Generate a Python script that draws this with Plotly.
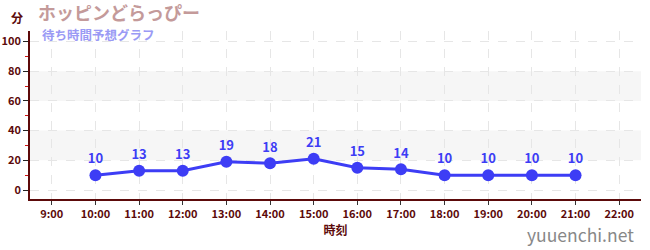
import plotly.graph_objects as go

hours = [10, 11, 12, 13, 14, 15, 16, 17, 18, 19, 20, 21]
waits = [10, 13, 13, 19, 18, 21, 15, 14, 10, 10, 10, 10]
tick_hours = list(range(9, 23))
tick_labels = [f"{h}:00" for h in tick_hours]
y_ticks = [0, 20, 40, 60, 80, 100]
bands = [(20, 40), (60, 80)]

font = "Noto Sans CJK JP"
axis_col = "#5c0a0a"
blue = "#3d3df5"

L, R, T, B, W, H = 30, 9, 31, 51, 650, 250

fig = go.Figure()
fig.add_trace(go.Scatter(
    x=hours, y=waits, mode="lines+markers+text",
    line=dict(color=blue, width=3),
    marker=dict(color=blue, size=12),
    text=[str(v) for v in waits], textposition="top center",
    textfont=dict(family=font, size=13, color=blue, weight="bold"),
    cliponaxis=False, hoverinfo="skip",
))

shapes = []
for lo, hi in bands:
    shapes.append(dict(type="rect", xref="paper", yref="y", x0=0, x1=1, y0=lo, y1=hi,
                       fillcolor="#f6f6f6", line=dict(width=0), layer="below"))


def px_ann(text, x, y, size, color, anchor="center", weight="bold"):
    return dict(text=text, xref="paper", yref="paper",
                x=(x - L) / (W - L - R), y=(H - B - y) / (H - T - B),
                xanchor=anchor, yanchor="middle", showarrow=False,
                font=dict(size=size, color=color, family=font, weight=weight))


fig.update_layout(
    width=W, height=H,
    margin=dict(l=L, r=R, t=T, b=B),
    paper_bgcolor="white", plot_bgcolor="white",
    showlegend=False,
    shapes=shapes,
    font=dict(family=font, color=axis_col),
    xaxis=dict(
        range=[8.5, 22.5], tickvals=tick_hours, ticktext=tick_labels,
        showline=True, linecolor=axis_col, linewidth=1.5,
        ticks="outside", ticklen=4, tickcolor="#333",
        tickfont=dict(size=11, color=axis_col, family=font, weight="bold"),
        showgrid=True, gridcolor="#e6e6e6", griddash="dash", gridwidth=1,
        zeroline=False, automargin=False,
        title=dict(text="時刻", font=dict(size=12, color=axis_col, family=font, weight="bold"), standoff=7),
    ),
    yaxis=dict(
        range=[-6, 107], tickvals=y_ticks,
        showline=True, linecolor=axis_col, linewidth=1.5,
        ticks="outside", ticklen=5, tickcolor="#222",
        tickfont=dict(size=11, color=axis_col, family=font, weight="bold"),
        showgrid=True, gridcolor="#e6e6e6", griddash="dash", gridwidth=1,
        zeroline=False, automargin=False,
        minor=dict(tickvals=[10, 30, 50, 70, 90], ticks="outside", ticklen=3,
                   tickcolor="#d01010", showgrid=False),
    ),
    annotations=[
        px_ann("分", 17, 17, 12, axis_col),
        px_ann("ホッピンどらっぴー", 36, 12, 18, "#c49a9a", anchor="left"),
        px_ann("待ち時間予想グラフ", 40, 34, 12.5, "#9a9af5", anchor="left"),
        px_ann("yuuenchi.net", 636, 235, 17.5, "#888888", anchor="right", weight="normal"),
    ],
)

fig.write_html("out.html")
